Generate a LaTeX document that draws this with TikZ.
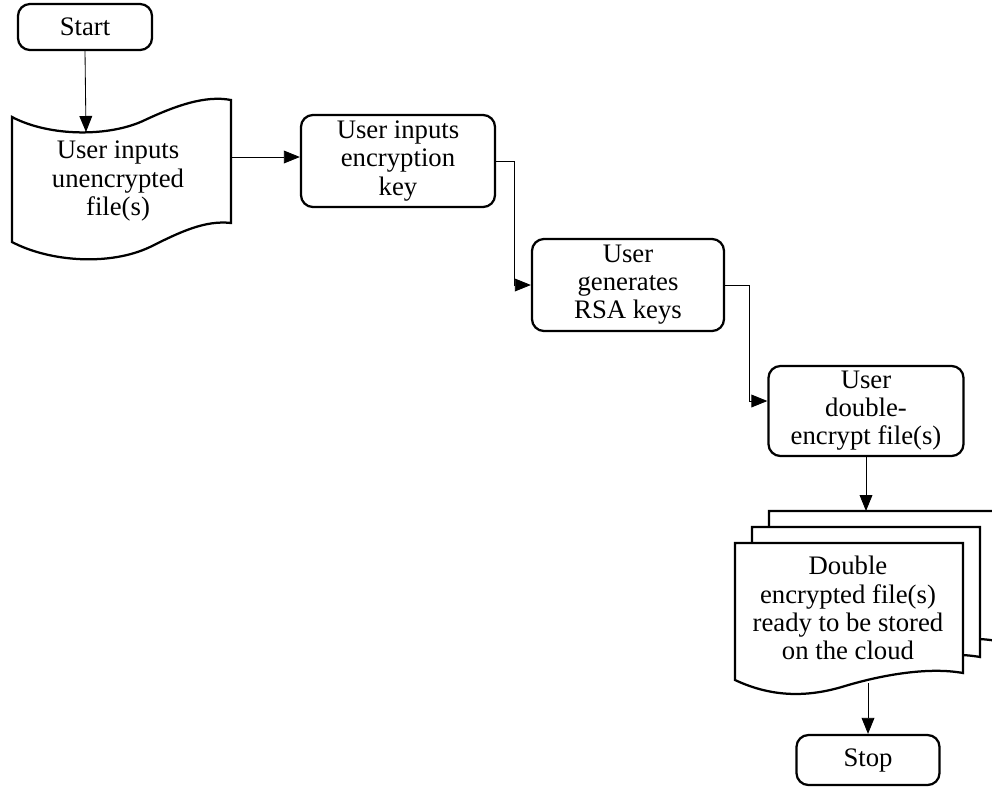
\documentclass[tikz,border=0pt]{standalone}
\usepackage{fontspec}
\setmainfont{Liberation Serif}
\usetikzlibrary{arrows.meta}

\begin{document}
\begin{tikzpicture}[x=0.025cm, y=-0.025cm, font=\fontsize{19}{20}\selectfont,
 box/.style={rectangle, rounded corners=0.3cm, draw, line width=1.6pt, align=center, inner sep=0pt},
 term node/.style={box, minimum width=3.4cm, minimum height=1.15cm},
 proc node/.style={box, minimum width=4.85cm, minimum height=2.3cm},
 page/.style={draw, fill=white, line width=1.6pt},
 line/.style={draw, line width=0.6pt, -{Triangle[length=0.4cm, width=0.32cm]}}]

  \clip (0,0) rectangle (992,791);
  \useasboundingbox (0,0) rectangle (992,791);

  % input document
  \path[page] (12,117) .. controls (50,137) and (110,137) .. (145,120)
    .. controls (175,106) and (205,95) .. (231,100) -- (231,223)
    .. controls (205,220) and (180,232) .. (150,247)
    .. controls (110,266) and (50,262) .. (12,242) -- cycle;
  \coordinate (in top) at (86,132);
  \coordinate (in east) at (231,157);

  % output pile
  \foreach \dx/\dy in {34/32, 17/16, 0/0} {
    \path[page, shift={(\dx,-\dy)}] (735,543) -- (735,680)
      .. controls (765,694) and (800,700) .. (845,686)
      .. controls (885,674) and (930,667) .. (963,673) -- (963,543) -- cycle;
  }
  \coordinate (pile top) at (868,511);
  \coordinate (pile bottom) at (868,683);

  \node[term node, minimum width=3.35cm] (start) at (85,27) {Start};
  \node[align=center] (infile) at (118,181) {User inputs\\unencrypted\\file(s)};
  \node[proc node] (key) at (398,161) {User inputs\\encryption\\key};
  \node[proc node, minimum width=4.8cm] (rsa) at (628,285) {User\\generates\\RSA keys};
  \node[proc node, minimum width=4.875cm, minimum height=2.25cm] (dbl) at (866,411) {User\\double-\\encrypt file(s)};
  \node[align=center] (out) at (848,608) {Double\\encrypted file(s)\\ready to be stored\\on the cloud};
  \node[term node, minimum width=3.575cm, minimum height=1.25cm] (stop) at (868,760) {Stop};

  \draw[line] (start.south) -- (in top);
  \draw[line] (in east) -- (in east -| key.west);
  \draw[line] (key.east) -- ++(18,0) |- (rsa.west);
  \draw[line] (rsa.east) -- ++(24,0) |- ([yshift=0.25cm]dbl.west);
  \draw[line] (dbl.south) -- (dbl.south |- pile top);
  \draw[line] (pile bottom) -- (stop.north);
\end{tikzpicture}
\end{document}
